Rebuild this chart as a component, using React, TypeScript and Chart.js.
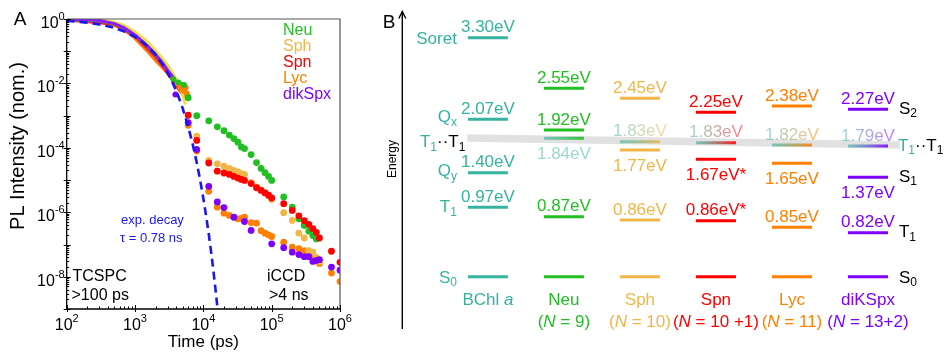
import React, { useEffect, useRef } from 'react';
import { Chart, registerables } from 'chart.js';

Chart.register(...registerables);

const FONT = '"Liberation Sans", Arial, Helvetica, sans-serif';

/* ---------------- Panel A : PL decay ---------------- */
const xTickExponents = [2, 3, 4, 5, 6];
const yTickExponents = [0, -2, -4, -6, -8];
const legendNames = ['Neu', 'Sph', 'Spn', 'Lyc', 'dikSpx'];

// dashed mono-exponential decay, tau = 0.78 ns
const expDecay = [
  [100, 0.88], [200, 0.774], [300, 0.681], [400, 0.599], [500, 0.527], [700, 0.408],
  [1000, 0.278], [1300, 0.189], [1600, 0.129], [2000, 0.077], [2500, 0.0406], [3000, 0.0214],
  [3500, 0.0113], [4000, 0.0059], [4500, 0.0031], [5000, 0.00165], [6000, 4.6e-4], [7000, 1.27e-4],
  [8000, 3.5e-5], [9000, 9.7e-6], [10000, 2.7e-6], [11000, 7.5e-7], [12000, 2.1e-7],
  [13000, 5.8e-8], [14000, 1.6e-8], [15000, 4.4e-9], [16000, 1.2e-9], [16500, 6.6e-10],
];

// TCSPC traces (>100 ps)
const sphTcspc = [
  [100, 0.97], [200, 0.96], [300, 0.93], [500, 0.8], [700, 0.62], [1000, 0.4], [1500, 0.2],
  [2000, 0.105], [2500, 0.06], [3000, 0.036], [3500, 0.022], [4000, 0.0135], [4500, 0.0085],
  [5000, 0.0045], [5400, 0.0024],
];
const dikTcspc = [
  [100, 0.96], [200, 0.95], [300, 0.9], [500, 0.72], [700, 0.53], [1000, 0.32], [1500, 0.15],
  [2000, 0.08], [2500, 0.045], [3000, 0.026], [3500, 0.017], [3750, 0.014],
];
const neuTcspc = [
  [100, 0.96], [300, 0.9], [500, 0.72], [700, 0.53], [1000, 0.32], [1500, 0.15], [2000, 0.08],
  [2500, 0.045], [3000, 0.027], [3500, 0.017], [4000, 0.012], [4500, 0.0105], [5000, 0.009], [5300, 0.0085],
];
const spnTcspc = [
  [100, 0.96], [500, 0.7], [1000, 0.3], [2000, 0.07], [3000, 0.022], [4000, 0.009], [5000, 0.005],
];
const lycTcspc = [
  [100, 0.95], [300, 0.88], [500, 0.68], [700, 0.48], [1000, 0.27], [1500, 0.11], [2000, 0.055],
  [2500, 0.034], [3000, 0.022], [3500, 0.015], [4000, 0.0095], [4500, 0.0065], [5000, 0.005], [5500, 0.0038],
];
const neuTcspcTail = [[3640, 0.0136], [4300, 0.0107], [5210, 0.0089]];
const lycTcspcTail = [[4200, 0.01], [4600, 0.0075], [5000, 0.009], [5200, 0.006], [5500, 0.0075], [5700, 0.005], [5900, 0.004]];
const dikTcspcTail = [[3900, 0.0045]];

// iCCD points (>4 ns)
const iccdTime = [6000, 8000, 12000, 16000, 20000, 24000, 28000, 32000, 36000, 40000, 50000, 60000, 70000,
  80000, 90000, 100000, 150000, 200000, 250000, 300000, 350000, 400000, 450000, 500000, 750000, 1000000];
const neuIccd = [3.6e-3, 1.0e-3, 6.9e-4, 4.5e-4, 3.4e-4, 2.5e-4, 1.95e-4, 1.5e-4, 1.07e-4, 9.5e-5, 6.2e-5, 3.5e-5,
  2.3e-5, 1.7e-5, 1.3e-5, 9.8e-6, 3.0e-6, 1.45e-6, 6.3e-7, 3.9e-7, 2.6e-7, 1.9e-7, 1.5e-7, null, null, null];
const sphIccd = [null, 2.3e-4, 4.1e-5, 3.2e-5, 2.7e-5, 2.3e-5, 2.0e-5, 1.8e-5, 1.6e-5, 1.5e-5, 8.5e-6, 6.2e-6,
  5.0e-6, 4.1e-6, 3.3e-6, 2.5e-6, 9.7e-7, 5.6e-7, 2.25e-7, 1.6e-7, 6.5e-8, 5.8e-8, 4.0e-8, 3.0e-8, null, null];
const spnIccd = [1.03e-3, 1.7e-4, 3.4e-5, 1.9e-5, 1.66e-5, 1.5e-5, 1.3e-5, 1.16e-5, 1.05e-5, 9.8e-6, 7.8e-6, 5.8e-6,
  4.8e-6, 4.0e-6, 3.4e-6, 2.8e-6, 1.85e-6, 1.15e-6, 7.8e-7, 5.5e-7, 4.2e-7, 3.1e-7, 2.4e-7, 1.6e-7, 6.2e-8, 2.8e-8];
const lycIccd = [5.0e-4, 8.0e-5, 4.5e-6, 1.45e-6, 9.4e-7, 8.0e-7, 7.0e-7, 6.3e-7, 6.5e-7, 7.1e-7, 4.8e-7, 4.6e-7,
  2.7e-7, 2.25e-7, 2.0e-7, 1.78e-7, 1.18e-7, 8.3e-8, 7.4e-8, 6.5e-8, 5.0e-8, 4.5e-8, 3.6e-8, 2.6e-8, 1.3e-8, 7.1e-9];
const dikIccd = [6.1e-4, 8.9e-5, 6.4e-6, 2.1e-6, 1.4e-6, null, 7.1e-7, null, null, 5.2e-7, 2.75e-7, null,
  null, null, null, 1.05e-7, 8.0e-8, 5.8e-8, 4.9e-8, 4.2e-8, 4.2e-8, 3.0e-8, 3.2e-8, 3.4e-8, 2.0e-8, 1.6e-8];

/* ---------------- Panel B : energy levels ---------------- */
const molecules = ['BChl', 'Neu', 'Sph', 'Spn', 'Lyc', 'diKSpx'];
const chainLengths = [null, '9', '10', '10 +1', '11', '13+2'];
const soretEnergy = [3.30, null, null, null, null, null];
const s2Energy = [2.07, 2.55, 2.45, 2.25, 2.38, 2.27];
const ttEnergy = [null, 1.84, 1.83, 1.83, 1.82, 1.79];
const s1Energy = [1.40, 1.92, 1.77, 1.67, 1.65, 1.37];
const t1Energy = [0.97, 0.87, 0.86, 0.86, 0.85, 0.82];
const estimatedValue = [false, false, false, true, false, false];
// heights at which the levels are drawn (schematic diagram, not to scale)
const soretDrawn = [3.30, null, null, null, null, null];
const s2Drawn = [2.173, 2.601, 2.463, 2.270, 2.357, 2.311];
const ttDrawn = [null, 1.911, 1.864, 1.850, 1.819, 1.805];
const s1Drawn = [1.436, 2.026, 1.750, 1.621, 1.566, 1.373];
const t1Drawn = [0.958, 0.828, 0.783, 0.773, 0.682, 0.608];
const s0Drawn = [0, 0, 0, 0, 0, 0];
const ttBand = [[-0.27, 1.915], [5.42, 1.82]];

/* ---------------- styles ---------------- */
const TEAL = '#35b39e';
const molColors = [TEAL, '#22bf22', '#f2b648', '#ff0000', '#ff8000', '#8000ff'];
const legendColors = ['#22bf22', '#f2b648', '#ff0000', '#ff8000', '#8000ff'];
const BLUE = '#1717ee';

function rgba(hex: string, a: number) {
  const n = parseInt(hex.slice(1), 16);
  return `rgba(${(n >> 16) & 255},${(n >> 8) & 255},${n & 255},${a})`;
}

type Run = { t: string; c?: any; sub?: boolean; it?: boolean };

function drawRuns(ctx: CanvasRenderingContext2D, runs: Run[], x: number, y: number, align: string, size: number, subSize: number, defColor: any) {
  const fontFor = (r: Run) => `${r.it ? 'italic ' : ''}${r.sub ? subSize : size}px ${FONT}`;
  let total = 0;
  const widths = runs.map((r) => {
    ctx.font = fontFor(r);
    const w = ctx.measureText(r.t).width;
    total += w;
    return w;
  });
  let cx = align === 'left' ? x : align === 'right' ? x - total : x - total / 2;
  const start = cx;
  ctx.textAlign = 'left';
  ctx.textBaseline = 'alphabetic';
  const base = y + size * 0.358;
  runs.forEach((r, i) => {
    ctx.font = fontFor(r);
    ctx.fillStyle = r.c ?? defColor;
    ctx.fillText(r.t, cx, r.sub ? base + size * 0.2 : base);
    cx += widths[i];
  });
  return { left: start, width: total };
}

function drawPow(ctx: CanvasRenderingContext2D, exp: string, x: number, baseY: number, align: string) {
  ctx.font = `16px ${FONT}`;
  const bw = ctx.measureText('10').width;
  ctx.font = `11px ${FONT}`;
  const ew = ctx.measureText(exp).width;
  const total = bw + ew;
  const left = align === 'center' ? x - total / 2 : x - total;
  ctx.textAlign = 'left';
  ctx.textBaseline = 'alphabetic';
  ctx.font = `16px ${FONT}`;
  ctx.fillText('10', left, baseY);
  ctx.font = `11px ${FONT}`;
  ctx.fillText(exp, left + bw, baseY - 8);
}

const panelAPlugin = {
  id: 'panelA',
  afterDraw(chart: any) {
    const { ctx, chartArea: a } = chart;
    const xs = chart.scales.x;
    const ys = chart.scales.y;
    ctx.save();
    // frame
    ctx.lineWidth = 1.2;
    ctx.strokeStyle = '#555';
    ctx.beginPath();
    ctx.moveTo(a.left, a.top);
    ctx.lineTo(a.right, a.top);
    ctx.lineTo(a.right, a.bottom);
    ctx.stroke();
    ctx.strokeStyle = '#000';
    ctx.lineWidth = 1.3;
    ctx.beginPath();
    ctx.moveTo(a.left, a.top);
    ctx.lineTo(a.left, a.bottom);
    ctx.lineTo(a.right, a.bottom);
    ctx.stroke();
    // ticks
    ctx.lineWidth = 1;
    for (let e = 2; e <= 6; e++) {
      for (let m = 1; m <= 9; m++) {
        const v = m * Math.pow(10, e);
        if (v > 1e6 * 1.0001) break;
        const px = Math.round(xs.getPixelForValue(v)) + 0.5;
        ctx.beginPath();
        if (m === 1) { ctx.moveTo(px, a.bottom + 3); ctx.lineTo(px, a.bottom - 4); }
        else { ctx.moveTo(px, a.bottom); ctx.lineTo(px, a.bottom - 2.5); }
        ctx.stroke();
      }
    }
    for (let e = -9; e <= 0; e++) {
      for (let m = 1; m <= 9; m++) {
        const v = m * Math.pow(10, e);
        if (v > 1.0001) break;
        const py = Math.round(ys.getPixelForValue(v)) + 0.5;
        ctx.beginPath();
        if (m === 1) { ctx.moveTo(a.left - 3, py); ctx.lineTo(a.left + 4, py); }
        else { ctx.moveTo(a.left, py); ctx.lineTo(a.left + 2.5, py); }
        ctx.stroke();
      }
    }
    // tick labels
    ctx.fillStyle = '#000';
    for (const e of xTickExponents) drawPow(ctx, String(e), xs.getPixelForValue(Math.pow(10, e)), a.bottom + 21, 'center');
    for (const e of yTickExponents) drawPow(ctx, String(e), a.left - 2, ys.getPixelForValue(Math.pow(10, e)) + 9, 'right');
    // axis titles
    ctx.font = `17px ${FONT}`;
    ctx.textAlign = 'center';
    ctx.textBaseline = 'middle';
    ctx.fillText('Time (ps)', (a.left + a.right) / 2, 342);
    ctx.save();
    ctx.translate(18, 146);
    ctx.rotate(-Math.PI / 2);
    ctx.font = `20px ${FONT}`;
    ctx.fillText('PL Intensity (nom.)', 0, 0);
    ctx.restore();
    // panel letter
    ctx.font = `19px ${FONT}`;
    ctx.fillText('A', 20, 20);
    // legend
    ctx.font = `16px ${FONT}`;
    ctx.textAlign = 'left';
    legendNames.forEach((n, i) => {
      ctx.fillStyle = legendColors[i];
      ctx.fillText(n, 283, 31 + i * 16);
    });
    // annotations
    ctx.fillStyle = BLUE;
    ctx.font = `13px ${FONT}`;
    ctx.fillText('exp. decay', 121, 220);
    ctx.fillText('\u03c4 = 0.78 ns', 120, 238);
    ctx.fillStyle = '#000';
    ctx.font = `16px ${FONT}`;
    ctx.fillText('TCSPC', 72.5, 277);
    ctx.fillText('>100 ps', 71.5, 295.5);
    ctx.fillText('iCCD', 267, 277);
    ctx.fillText('>4 ns', 269, 295.5);
    ctx.restore();
  },
};

const panelBPlugin = {
  id: 'panelB',
  afterDraw(chart: any) {
    const { ctx, chartArea: a } = chart;
    const xs = chart.scales.x;
    const ys = chart.scales.y;
    const X = (i: number) => xs.getPixelForValue(i);
    const Y = (e: number) => ys.getPixelForValue(e);
    ctx.save();
    // energy arrow
    ctx.strokeStyle = '#000';
    ctx.lineWidth = 1.4;
    const ax = a.left;
    ctx.beginPath();
    ctx.moveTo(ax, a.bottom);
    ctx.lineTo(ax, a.top - 4.5);
    ctx.stroke();
    ctx.beginPath();
    ctx.moveTo(ax - 3.5, a.top + 2.5);
    ctx.lineTo(ax, a.top - 4.5);
    ctx.lineTo(ax + 3.5, a.top + 2.5);
    ctx.stroke();
    ctx.fillStyle = '#000';
    ctx.font = `19px ${FONT}`;
    ctx.textAlign = 'center';
    ctx.textBaseline = 'middle';
    ctx.fillText('B', 19, 23);
    ctx.save();
    ctx.translate(ax - 10, 159);
    ctx.rotate(-Math.PI / 2);
    ctx.font = `12px ${FONT}`;
    ctx.fillText('Energy', 0, 0);
    ctx.restore();

    // value labels
    const SIZE = 17;
    const label = (i: number, v: number, drawn: number, below: boolean, star: boolean) => {
      const text = `${v.toFixed(2)}eV${star ? '*' : ''}`;
      drawRuns(ctx, [{ t: text }], X(i), Y(drawn) + (below ? 15 : -11.5), 'center', SIZE, 12, molColors[i]);
    };
    molecules.forEach((m, i) => {
      const hasTT = ttDrawn[i] != null;
      if (soretDrawn[i] != null) label(i, soretEnergy[i] as number, soretDrawn[i] as number, false, false);
      label(i, s2Energy[i], s2Drawn[i], false, false);
      const s1Below = hasTT && (s1Drawn[i] as number) < (ttDrawn[i] as number);
      label(i, s1Energy[i], s1Drawn[i], s1Below, estimatedValue[i]);
      label(i, t1Energy[i], t1Drawn[i], false, estimatedValue[i]);
      if (hasTT) {
        const ttBelow = (ttDrawn[i] as number) < s1Drawn[i];
        const text = `${(ttEnergy[i] as number).toFixed(2)}eV`;
        ctx.font = `${SIZE}px ${FONT}`;
        const w = ctx.measureText(text).width;
        const cx = X(i);
        const g = ctx.createLinearGradient(cx - w / 2, 0, cx + w / 2, 0);
        g.addColorStop(0, TEAL);
        g.addColorStop(1, molColors[i]);
        ctx.globalAlpha = 0.5;
        drawRuns(ctx, [{ t: text }], cx, Y(ttDrawn[i] as number) + (ttBelow ? 15 : -11.5), 'center', SIZE, 12, i === 1 ? TEAL : g);
        ctx.globalAlpha = 1;
      }
    });

    // left labels (BChl states)
    const lx = X(0) - 31;
    drawRuns(ctx, [{ t: 'Soret' }], lx, Y(soretDrawn[0] as number), 'right', SIZE, 12, TEAL);
    drawRuns(ctx, [{ t: 'Q' }, { t: 'x', sub: true }], lx, Y(s2Drawn[0]) - 3, 'right', SIZE, 12, TEAL);
    drawRuns(ctx, [{ t: 'Q' }, { t: 'y', sub: true }], lx, Y(s1Drawn[0]) - 2.5, 'right', SIZE, 12, TEAL);
    drawRuns(ctx, [{ t: 'T' }, { t: '1', sub: true }], lx, Y(t1Drawn[0]) - 1, 'right', SIZE, 12, TEAL);
    drawRuns(ctx, [{ t: 'S' }, { t: '0', sub: true }], lx, Y(s0Drawn[0]), 'right', SIZE, 12, TEAL);
    const ttRuns: Run[] = [{ t: 'T', c: TEAL }, { t: '1', sub: true, c: TEAL }, { t: '\u00b7\u00b7T', c: '#000' }, { t: '1', sub: true, c: '#000' }];
    drawRuns(ctx, ttRuns, X(ttBand[0][0]) - 2, Y(ttBand[0][1]) + 3, 'right', SIZE, 12, TEAL);
    // right labels
    const rx = X(5) + 31;
    drawRuns(ctx, [{ t: 'S' }, { t: '2', sub: true }], rx, Y(s2Drawn[5]) - 1.5, 'left', SIZE, 12, '#000');
    drawRuns(ctx, ttRuns, rx - 1, Y(ttBand[1][1]), 'left', SIZE, 12, '#000');
    drawRuns(ctx, [{ t: 'S' }, { t: '1', sub: true }], rx, Y(s1Drawn[5]) - 1.5, 'left', SIZE, 12, '#000');
    drawRuns(ctx, [{ t: 'T' }, { t: '1', sub: true }], rx, Y(t1Drawn[5]) - 1.5, 'left', SIZE, 12, '#000');
    drawRuns(ctx, [{ t: 'S' }, { t: '0', sub: true }], rx, Y(s0Drawn[5]), 'left', SIZE, 12, '#000');

    // molecule names
    molecules.forEach((m, i) => {
      const cx = X(i);
      const y0 = Y(0);
      const nameRuns: Run[] = i === 0 ? [{ t: m + ' ' }, { t: 'a', it: true }] : [{ t: m }];
      drawRuns(ctx, nameRuns, cx, y0 + 22.6, 'center', SIZE, 12, molColors[i]);
      if (chainLengths[i]) {
        drawRuns(ctx, [{ t: '(' }, { t: 'N', it: true }, { t: ` = ${chainLengths[i]})` }], cx, y0 + 44, 'center', SIZE, 12, molColors[i]);
      }
    });
    ctx.restore();
  },
};

const pairs = (arr: number[][]) => arr.map(([x, y]) => ({ x, y }));
const iccd = (vals: (number | null)[]) =>
  iccdTime.map((t, i) => ({ x: t, y: vals[i] })).filter((p) => p.y != null);

function makePanelA(canvas: HTMLCanvasElement) {
  const dot = (label: string, data: any[], color: string, r = 3.4) => ({
    label, data, backgroundColor: color, borderWidth: 0, pointRadius: r, pointHoverRadius: r,
    pointBackgroundColor: color, pointBorderWidth: 0, showLine: false, clip: 0,
  });
  const curve = (label: string, data: any[], color: string, width: number) => ({
    label, data, borderColor: color, borderWidth: width, pointRadius: 0, pointHoverRadius: 0,
    showLine: true, clip: 0, tension: 0, borderCapStyle: 'round', borderJoinStyle: 'round',
  });
  return new Chart(canvas, {
    type: 'scatter',
    data: {
      datasets: [
        { ...curve('exp. decay', pairs(expDecay), BLUE, 2.6), borderDash: [8, 5], borderCapStyle: 'butt' },
        dot('Spn', iccd(spnIccd), '#ff0000'),
        dot('dikSpx', iccd(dikIccd), '#8000ff'),
        dot('Neu', iccd(neuIccd), '#22bf22'),
        dot('Sph', iccd(sphIccd), '#f2b648'),
        dot('Lyc', iccd(lycIccd), '#ff8000'),
        dot('dikSpx TCSPC end', pairs(dikTcspcTail), '#8000ff', 3),
        dot('Neu TCSPC end', pairs(neuTcspcTail), '#22bf22', 3),
        dot('Lyc TCSPC end', pairs(lycTcspcTail), '#ff8000', 3),
        curve('dikSpx TCSPC', pairs(dikTcspc), '#8a1cff', 3),
        curve('Sph TCSPC', pairs(sphTcspc), '#eedd44', 3),
        curve('Neu TCSPC', pairs(neuTcspc), '#22bf22', 3.5),
        curve('Spn TCSPC', pairs(spnTcspc), '#ff2020', 3.5),
        curve('Lyc TCSPC', pairs(lycTcspc), '#ff8000', 4.5),
      ],
    },
    options: {
      animation: false,
      responsive: false,
      maintainAspectRatio: false,
      events: [],
      layout: { autoPadding: false, padding: { left: 66.7, right: 30, top: 19, bottom: 45 } },
      scales: {
        x: { type: 'logarithmic', min: 1e2, max: 1e6, display: false },
        y: { type: 'logarithmic', min: 1e-9, max: 1, display: false },
      },
      plugins: { legend: { display: false }, tooltip: { enabled: false } },
    },
    plugins: [panelAPlugin],
  } as any);
}

function makePanelB(canvas: HTMLCanvasElement) {
  const levelPoints = (i: number) =>
    [soretDrawn[i], s2Drawn[i], s1Drawn[i], t1Drawn[i], s0Drawn[i]]
      .filter((v) => v != null)
      .map((v) => ({ x: i, y: v }));
  const ttPoints = ttDrawn.map((v, i) => ({ x: i, y: v })).filter((p) => p.y != null);
  return new Chart(canvas, {
    type: 'scatter',
    data: {
      datasets: [
        ...molecules.map((m, i) => ({
          label: m, data: levelPoints(i), pointStyle: 'line', pointRadius: 20, pointHoverRadius: 20,
          pointBorderWidth: 3, pointHoverBorderWidth: 3, pointBorderColor: molColors[i],
          pointBackgroundColor: molColors[i], showLine: false, clip: false,
        })),
        {
          label: 'TT', data: ttPoints, pointStyle: 'line', pointRadius: 20, pointHoverRadius: 20,
          pointBorderWidth: 3, pointHoverBorderWidth: 3, showLine: false, clip: false,
          pointBorderColor: (c: any) => {
            const xs = c.chart.scales && c.chart.scales.x;
            if (!xs || !c.raw) return '#aaa';
            const px = xs.getPixelForValue(c.raw.x);
            if (!Number.isFinite(px)) return '#aaa';
            const g = c.chart.ctx.createLinearGradient(px - 20, 0, px + 20, 0);
            g.addColorStop(0, rgba(TEAL, 0.6));
            g.addColorStop(1, rgba(molColors[c.raw.x], 0.9));
            return g;
          },
        },
        {
          label: 'TT band', data: pairs(ttBand), showLine: true, borderColor: 'rgba(205,205,205,0.6)',
          borderWidth: 7.5, pointRadius: 0, pointHoverRadius: 0, clip: false, borderCapStyle: 'butt',
        },
      ],
    },
    options: {
      animation: false,
      responsive: false,
      maintainAspectRatio: false,
      events: [],
      layout: { autoPadding: false, padding: { left: 32.3, right: 0, top: 16, bottom: 25.1 } },
      scales: {
        x: { type: 'linear', min: -1.126, max: 6.0, display: false },
        y: { type: 'linear', min: -0.72, max: 3.6, display: false },
      },
      plugins: { legend: { display: false }, tooltip: { enabled: false } },
    },
    plugins: [panelBPlugin],
  } as any);
}

export default function App() {
  const refA = useRef<HTMLCanvasElement>(null);
  const refB = useRef<HTMLCanvasElement>(null);
  useEffect(() => {
    document.body.style.margin = '0';
    Chart.defaults.font.family = FONT;
    const ca = makePanelA(refA.current as HTMLCanvasElement);
    const cb = makePanelB(refB.current as HTMLCanvasElement);
    return () => {
      ca.destroy();
      cb.destroy();
    };
  }, []);
  return (
    <div style={{ position: 'relative', width: 944, height: 354, background: '#fff', overflow: 'hidden' }}>
      <canvas ref={refA} width={370} height={354} style={{ position: 'absolute', left: 0, top: 0, width: 370, height: 354 }} />
      <canvas ref={refB} width={574} height={354} style={{ position: 'absolute', left: 370, top: 0, width: 574, height: 354 }} />
    </div>
  );
}
